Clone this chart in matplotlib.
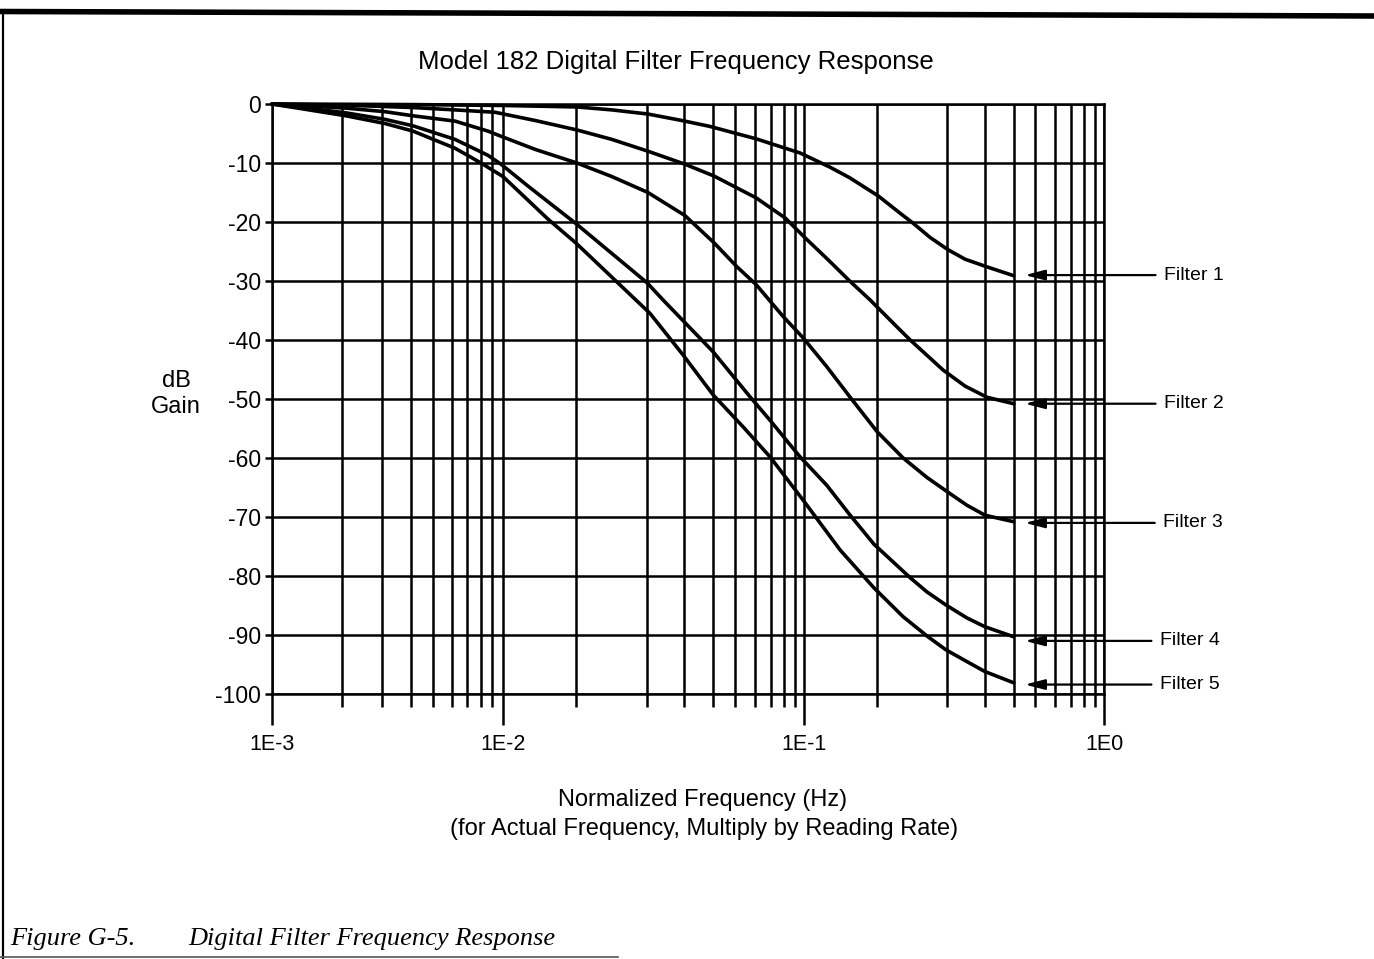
import numpy as np
import matplotlib
matplotlib.use("Agg")
import matplotlib.pyplot as plt
from matplotlib.lines import Line2D
from matplotlib.ticker import FixedLocator, FixedFormatter, NullFormatter

plt.rcParams['font.family'] = ['Liberation Sans', 'DejaVu Sans']

# normalized frequency (Hz) / gain (dB)
f1_freq = [1e-3, 2.09e-3, 4.08e-3, 1e-2, 1.76e-2, 2.30e-2, 3.03e-2, 3.93e-2, 4.87e-2,
           6.93e-2, 9.7e-2, 0.122, 0.142, 0.177, 0.209, 0.231, 0.263, 0.302, 0.344,
           0.407, 0.5]
f1_gain = [0, -0.05, -0.1, -0.25, -0.5, -1.0, -1.7, -2.8, -3.8,
           -5.9, -8.3, -10.7, -12.5, -15.6, -18.5, -20.2, -22.6, -24.7, -26.3,
           -27.6, -29.1]

f2_freq = [1e-3, 2.09e-3, 4.08e-3, 6.2e-3, 9.23e-3, 1.28e-2, 1.76e-2, 2.30e-2, 3.03e-2,
           4.02e-2, 5.02e-2, 6.93e-2, 8.65e-2, 0.1, 0.122, 0.142, 0.166, 0.209, 0.226,
           0.291, 0.344, 0.407, 0.5]
f2_gain = [0, -0.2, -0.6, -1.0, -1.4, -2.8, -4.4, -6.0, -8.0,
           -10.2, -12.2, -15.9, -19.3, -22.5, -26.7, -30.0, -33.2, -38.3, -40.0,
           -45.1, -47.8, -49.7, -50.8]

f3_freq = [1e-3, 2.09e-3, 3.08e-3, 4.08e-3, 6.2e-3, 8.61e-3, 1e-2, 1.28e-2, 1.76e-2,
           2.30e-2, 3.03e-2, 4.02e-2, 5.02e-2, 5.99e-2, 6.93e-2, 8.52e-2, 9.92e-2, 0.119,
           0.142, 0.175, 0.214, 0.257, 0.300, 0.349, 0.401, 0.5]
f3_gain = [0, -0.7, -1.3, -2.0, -2.9, -4.6, -5.6, -7.7, -10.0,
           -12.3, -15.0, -18.9, -23.5, -27.6, -30.6, -36.0, -39.6, -44.5,
           -49.6, -55.5, -60.0, -63.3, -65.7, -68.0, -69.7, -70.8]

f4_freq = [1e-3, 2.09e-3, 3.08e-3, 4.08e-3, 6.2e-3, 8.61e-3, 9.8e-3, 1.21e-2, 1.75e-2,
           3.01e-2, 3.40e-2, 4.99e-2, 6.61e-2, 7.71e-2, 9.7e-2, 0.119, 0.142, 0.171,
           0.226, 0.257, 0.297, 0.349, 0.401, 0.5]
f4_gain = [0, -1.5, -2.6, -3.7, -6.0, -8.7, -10.2, -13.9, -20.3,
           -30.3, -33.2, -42.0, -49.6, -53.6, -59.8, -64.6, -69.6, -74.6,
           -80.3, -82.7, -84.9, -87.1, -88.6, -90.3]

f5_freq = [1e-3, 2.09e-3, 3.08e-3, 4.08e-3, 6.2e-3, 8.03e-3, 1e-2, 1.41e-2, 1.75e-2,
           3.08e-2, 3.96e-2, 4.99e-2, 6.27e-2, 7.71e-2, 9.92e-2, 0.132, 0.171, 0.214,
           0.259, 0.297, 0.349, 0.401, 0.5]
f5_gain = [0, -2.0, -3.3, -4.6, -7.5, -10.0, -12.3, -19.5, -23.6,
           -35.5, -42.5, -49.3, -54.7, -59.8, -67.1, -75.6, -82.0, -86.9,
           -90.3, -92.5, -94.5, -96.2, -98.1]

filter_names = ["Filter 1", "Filter 2", "Filter 3", "Filter 4", "Filter 5"]
arrow_gain = [-29.0, -50.8, -71.0, -91.0, -98.4]

decades = [1e-3, 1e-2, 1e-1, 1e0]
decade_labels = ["1E-3", "1E-2", "1E-1", "1E0"]
# grid lines as drawn on the original (not quite log spaced past 1E-2)
minor_first = [2, 3, 4, 5, 6, 7, 8, 9]
minor_other = [1.75, 3, 4, 5, 5.9, 6.85, 7.75, 8.6, 9.3]
gain_ticks = [0, -10, -20, -30, -40, -50, -60, -70, -80, -90, -100]
gain_labels = ["0", "-10", "-20", "-30", "-40", "-50", "-60", "-70", "-80", "-90", "-100"]

# the decades on the original are not equally wide
dec_log = [-12, -3, -2, -1, 0, 12]
dec_pos = [-9 * 231, 0, 231, 532, 832, 832 + 12 * 300]


def fwd(x):
    x = np.clip(np.asarray(x, dtype=float), 1e-30, None)
    return np.interp(np.log10(x), dec_log, dec_pos)


def inv(u):
    return 10 ** np.interp(np.asarray(u, dtype=float), dec_pos, dec_log)


fig = plt.figure(figsize=(13.74, 9.59), dpi=100)
ax = fig.add_axes([272 / 1374, 1 - 694 / 959, 832 / 1374, 590 / 959])
ax.set_xscale('function', functions=(fwd, inv))
ax.set_xlim(1e-3, 1)
ax.set_ylim(-100, 0)

minor_x = [m * 1e-3 for m in minor_first] + [m * 1e-2 for m in minor_other] + \
          [m * 1e-1 for m in minor_other]
ax.xaxis.set_major_locator(FixedLocator(decades))
ax.xaxis.set_major_formatter(FixedFormatter(decade_labels))
ax.xaxis.set_minor_locator(FixedLocator(minor_x))
ax.xaxis.set_minor_formatter(NullFormatter())
ax.yaxis.set_major_locator(FixedLocator(gain_ticks))
ax.yaxis.set_major_formatter(FixedFormatter(gain_labels))

ax.grid(which='both', color='black', linewidth=1.8)
ax.tick_params(axis='x', which='major', length=22, width=1.8, pad=7, labelsize=15.5)
ax.tick_params(axis='x', which='minor', length=9, width=1.8)
ax.tick_params(axis='y', which='major', length=5, width=1.8, pad=3, labelsize=16.5)
for s in ax.spines.values():
    s.set_linewidth(1.8)

for fr, g in [(f1_freq, f1_gain), (f2_freq, f2_gain), (f3_freq, f3_gain),
              (f4_freq, f4_gain), (f5_freq, f5_gain)]:
    ax.plot(fr, g, color='black', linewidth=2.6, solid_joinstyle='round',
            solid_capstyle='round', clip_on=False)

text_x = [1.072, 1.072, 1.071, 1.067, 1.067]
for name, g, tx in zip(filter_names, arrow_gain, text_x):
    ax.annotate(name, xy=(0.545, g), xytext=(tx, g),
                textcoords=('axes fraction', 'data'), ha='left', va='center',
                fontsize=14, annotation_clip=False,
                arrowprops=dict(arrowstyle='-|>,head_length=0.85,head_width=0.22',
                                color='black', lw=1.6, shrinkA=4, shrinkB=0))

fig.text(676 / 1374, 1 - 62 / 959, "Model 182 Digital Filter Frequency Response",
         ha='center', va='center', fontsize=18.5)
fig.text(176 / 1374, 1 - 394 / 959, "dB\nGain", ha='center', va='center',
         fontsize=17, linespacing=1.25)
fig.text(703 / 1374, 1 - 800 / 959, "Normalized Frequency (Hz)",
         ha='center', va='center', fontsize=17)
fig.text(704 / 1374, 1 - 829 / 959, "(for Actual Frequency, Multiply by Reading Rate)",
         ha='center', va='center', fontsize=17)

cap = dict(family=['Liberation Serif', 'DejaVu Serif'], style='italic', fontsize=19,
           va='baseline')
fig.text(10 / 1374, 1 - 945 / 959, "Figure G-5.", **cap)
fig.text(188 / 1374, 1 - 945 / 959, "Digital Filter Frequency Response", **cap)

# page frame of the manual page
fig.add_artist(Line2D([0, 1], [1 - 11.5 / 959, 1 - 16 / 959], transform=fig.transFigure,
                      color='black', linewidth=4))
fig.add_artist(Line2D([2.5 / 1374, 2.5 / 1374], [0, 1 - 11 / 959], transform=fig.transFigure,
                      color='black', linewidth=1.6))
fig.add_artist(Line2D([0, 0.45], [1 - 956.5 / 959, 1 - 956.5 / 959], transform=fig.transFigure,
                      color='#555555', linewidth=1.2))

fig.savefig("out.png", dpi=100, facecolor='white')
